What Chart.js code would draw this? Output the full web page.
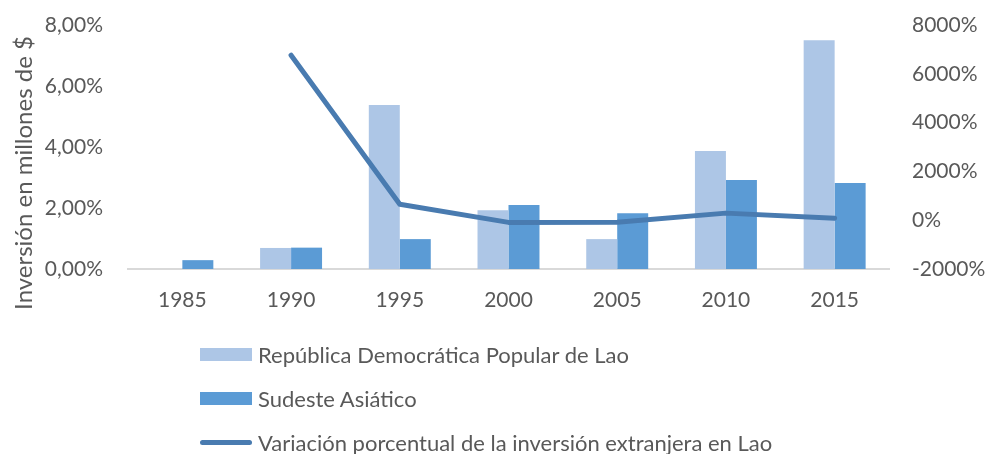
<!DOCTYPE html>
<html>
<head>
<meta charset="utf-8">
<script src="https://cdn.jsdelivr.net/npm/chart.js@4.4.1/dist/chart.umd.min.js"></script>
<style>
    html, body { margin: 0; padding: 0; background: #fff; }
    #wrap { position: relative; width: 986px; height: 454px; }
    #legend { position: absolute; left: 200px; top: 332px; font-family: Lato, sans-serif; font-size: 22px; color: #595959; }
    .item { height: 44px; display: flex; align-items: center; }
    .swatch { width: 52px; margin-right: 6px; }
</style>
</head>
<body>
<div id="wrap">
    <canvas id="myChart" width="986" height="454"></canvas>
    <div id="legend"></div>
</div>
<script>
var years = ["1985", "1990", "1995", "2000", "2005", "2010", "2015"];
var laoShare = [null, 0.69, 5.38, 1.93, 0.98, 3.87, 7.50];
var seaShare = [0.29, 0.70, 0.98, 2.10, 1.83, 2.92, 2.82];
var laoChange = [null, 6760, 650, -90, -80, 290, 80];
var leftTicks = [0, 2, 4, 6, 8];
var rightTicks = [-2000, 0, 2000, 4000, 6000, 8000];
var leftTitle = 'Inversión en millones de $';

var textColor = '#595959';
var tickFont = { family: 'Lato', size: 21 };

// the axis title sits a bit lower than the plot middle, like in Excel
var axisTitle = {
    id: 'axisTitle',
    afterDraw: function (chart) {
        var c = chart.ctx;
        c.save();
        c.translate(24, 173);
        c.rotate(-Math.PI / 2);
        c.font = '24px Lato';
        c.fillStyle = textColor;
        c.textAlign = 'center';
        c.textBaseline = 'middle';
        c.fillText(leftTitle, 0, 0);
        c.restore();
    }
};

function fixWidth(w) {
    return function (scale) {
        scale.width = w;
        scale.paddingTop = 0;
        scale.paddingBottom = 0;
    };
}

var ctx = document.getElementById("myChart").getContext('2d');
var chartData = {
    labels: years,
    datasets: [{
        type: 'line',
        label: 'Variación porcentual de la inversión extranjera en Lao',
        data: laoChange,
        yAxisID: 'y2',
        borderColor: '#497bb0',
        borderWidth: 5,
        borderCapStyle: 'round',
        borderJoinStyle: 'round',
        pointRadius: 0,
        tension: 0,
        order: 0
    }, {
        label: 'República Democrática Popular de Lao',
        data: laoShare,
        yAxisID: 'y',
        backgroundColor: '#adc6e6',
        order: 1
    }, {
        label: 'Sudeste Asiático',
        data: seaShare,
        yAxisID: 'y',
        backgroundColor: '#5b9bd5',
        order: 1
    }]
};

var myChart = new Chart(ctx, {
    type: 'bar',
    data: chartData,
    plugins: [axisTitle],
    options: {
        responsive: false,
        animation: false,
        layout: { padding: { top: 25, left: 0, right: 0, bottom: 0 } },
        datasets: { bar: { categoryPercentage: 0.57, barPercentage: 1.0 } },
        plugins: { legend: { display: false }, tooltip: { enabled: false } },
        scales: {
            x: {
                grid: { display: false, drawTicks: false },
                border: { display: true, color: '#d9d9d9', width: 2 },
                ticks: { color: textColor, font: tickFont, padding: 19, maxRotation: 0 },
                afterFit: function (scale) { scale.height = 454 - 269; }
            },
            y: {
                position: 'left',
                min: 0,
                max: 8,
                afterBuildTicks: function (scale) {
                    scale.ticks = leftTicks.map(function (v) { return { value: v }; });
                },
                grid: { display: false, drawTicks: false },
                border: { display: false },
                ticks: {
                    color: textColor, font: tickFont, padding: 25,
                    callback: function (v) { return v.toFixed(2).replace('.', ',') + '%'; }
                },
                afterFit: fixWidth(128)
            },
            y2: {
                position: 'right',
                min: -2000,
                max: 8000,
                afterBuildTicks: function (scale) {
                    scale.ticks = rightTicks.map(function (v) { return { value: v }; });
                },
                grid: { display: false, drawTicks: false },
                border: { display: false },
                ticks: {
                    color: textColor, font: tickFont, padding: 23,
                    callback: function (v) { return v + '%'; }
                },
                afterFit: fixWidth(986 - 889)
            }
        }
    }
});

// vertical legend built from the datasets
var legend = document.getElementById("legend");
[1, 2, 0].forEach(function (i) {
    var ds = chartData.datasets[i];
    var sw = ds.type === 'line'
        ? '<span class="swatch" style="height:5px;border-radius:3px;background:' + ds.borderColor + '"></span>'
        : '<span class="swatch" style="height:13px;background:' + ds.backgroundColor + '"></span>';
    legend.innerHTML += '<div class="item">' + sw + '<span>' + ds.label + '</span></div>';
});
</script>
</body>
</html>
